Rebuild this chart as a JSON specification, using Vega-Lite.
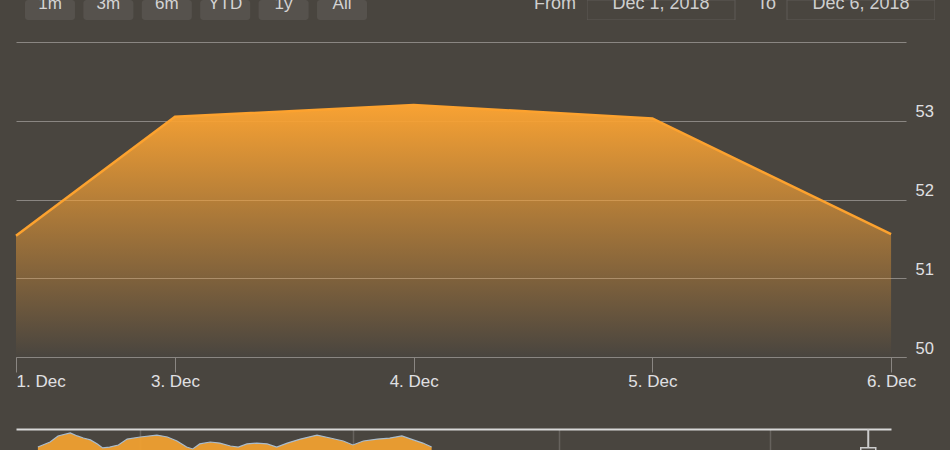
{
  "$schema": "https://vega.github.io/schema/vega-lite/v6.json",
  "background": "#49453f",
  "padding": {"left": 11, "top": -5, "right": 15, "bottom": 0},
  "config": {
    "view": {"stroke": null},
    "font": "Liberation Sans",
    "axis": {"labelFont": "Liberation Sans", "titleFont": "Liberation Sans"}
  },
  "datasets": {
    "price": [
      {"day": 1, "month": "Dec", "close": 51.54},
      {"day": 3, "month": "Dec", "close": 53.05},
      {"day": 4, "month": "Dec", "close": 53.2},
      {"day": 5, "month": "Dec", "close": 53.03},
      {"day": 6, "month": "Dec", "close": 51.56}
    ],
    "buttons": [
      {"label": "1m"}, {"label": "3m"}, {"label": "6m"},
      {"label": "YTD"}, {"label": "1y"}, {"label": "All"}
    ],
    "range": [
      {"label": "From", "value": "Dec 1, 2018"},
      {"label": "To", "value": "Dec 6, 2018"}
    ],
    "nav": [
      {"i": 2.5, "v": 1.4}, {"i": 3.9, "v": 3.8}, {"i": 4.8, "v": 6.7}, {"i": 6.2, "v": 8.1},
      {"i": 7.0, "v": 6.7}, {"i": 7.7, "v": 5.7}, {"i": 8.5, "v": 4.8}, {"i": 9.3, "v": 2.9},
      {"i": 9.9, "v": 1.0}, {"i": 10.7, "v": 1.4}, {"i": 11.7, "v": 2.4}, {"i": 12.7, "v": 5.2},
      {"i": 14.2, "v": 6.2}, {"i": 16.1, "v": 7.1}, {"i": 17.3, "v": 6.2}, {"i": 18.4, "v": 4.3},
      {"i": 19.5, "v": 1.4}, {"i": 20.2, "v": 0.5}, {"i": 21.0, "v": 2.9}, {"i": 22.2, "v": 3.8},
      {"i": 23.3, "v": 3.3}, {"i": 24.5, "v": 1.9}, {"i": 25.4, "v": 1.4}, {"i": 26.4, "v": 2.9},
      {"i": 27.5, "v": 3.3}, {"i": 28.7, "v": 2.9}, {"i": 29.8, "v": 1.4}, {"i": 31.0, "v": 3.3},
      {"i": 32.5, "v": 5.2}, {"i": 34.4, "v": 7.1}, {"i": 35.9, "v": 5.7}, {"i": 37.4, "v": 4.3},
      {"i": 38.5, "v": 2.4}, {"i": 39.7, "v": 4.3}, {"i": 41.3, "v": 5.2}, {"i": 42.7, "v": 5.7},
      {"i": 44.1, "v": 6.7}, {"i": 45.4, "v": 4.8}, {"i": 46.5, "v": 3.3}, {"i": 47.5, "v": 1.4}
    ],
    "handle": [{"i": 97.4, "v": -2.5}]
  },
  "bounds": "flush",
  "spacing": 42,
  "vconcat": [
    {
      "bounds": "flush",
      "spacing": 211,
      "hconcat": [
        {
          "width": 360,
          "height": 20,
          "data": {"name": "buttons"},
          "encoding": {
            "x": {"field": "label", "type": "nominal", "sort": null, "axis": null,
                  "scale": {"type": "band", "paddingInner": 0.144, "paddingOuter": 0.154}}
          },
          "layer": [
            {"mark": {"type": "bar", "color": "#56524d", "cornerRadius": 3, "clip": true}},
            {
              "mark": {"type": "text", "color": "#d4d4d4", "fontSize": 17, "baseline": "alphabetic", "dy": -1, "clip": true},
              "encoding": {"text": {"field": "label"}}
            }
          ]
        },
        {
          "width": 348,
          "height": 20,
          "data": {"name": "range"},
          "encoding": {
            "x": {"field": "label", "type": "nominal", "sort": null, "axis": null,
                  "scale": {"type": "band", "paddingInner": 0.26, "paddingOuter": 0}}
          },
          "layer": [
            {"mark": {"type": "bar", "fill": "#49453f", "stroke": "#5f5b56", "strokeWidth": 1, "clip": true}},
            {
              "mark": {"type": "text", "color": "#cfcfcf", "fontSize": 18, "baseline": "alphabetic", "dy": -1, "clip": true},
              "encoding": {"text": {"field": "value"}}
            },
            {
              "mark": {"type": "text", "color": "#cfcfcf", "fontSize": 18, "baseline": "alphabetic", "align": "right", "dx": -11, "dy": -1},
              "encoding": {
                "x": {"field": "label", "type": "nominal", "sort": null, "axis": null, "bandPosition": 0},
                "text": {"field": "label"}
              }
            }
          ]
        }
      ]
    },
    {
      "bounds": "flush",
      "spacing": 72,
      "vconcat": [
        {
          "width": 890,
          "height": 315,
          "data": {"name": "price"},
          "encoding": {
            "x": {
              "field": "day", "type": "quantitative",
              "scale": {"domain": [1, 3, 6.0625], "range": [0, 159, 890], "nice": false, "zero": false},
              "axis": {
                "title": null,
                "values": [1, 3, 4, 5, 6],
                "labelExpr": "datum.value + '. Dec'",
                "grid": false,
                "domainColor": "#8a8682",
                "tickColor": "#8a8682",
                "tickSize": 15,
                "labelColor": "#e0e0e3",
                "labelFontSize": 17,
                "labelPadding": 1,
                "labelBaseline": "top",
                "labelAlign": {"condition": {"test": "datum.index === 0", "value": "left"}, "value": "center"},
                "labelOverlap": false,
                "labelFlush": false
              }
            },
            "y": {
              "field": "close", "type": "quantitative",
              "scale": {"domain": [50, 54], "zero": false, "nice": false},
              "axis": {
                "title": null,
                "orient": "right",
                "values": [50, 51, 52, 53, 54],
                "labelExpr": "datum.value === 54 ? '' : datum.label",
                "grid": true,
                "gridColor": "#8a8682",
                "domain": false,
                "ticks": false,
                "labelColor": "#e0e0e3",
                "labelFontSize": 16.5,
                "labelAlign": "left",
                "labelPadding": 9,
                "labelBaseline": "alphabetic",
                "labelOffset": -4
              }
            }
          },
          "layer": [
            {
              "mark": {
                "type": "area",
                "color": {
                  "gradient": "linear",
                  "x1": 0, "y1": 0, "x2": 0, "y2": 1,
                  "stops": [
                    {"offset": 0, "color": "#f8a233"},
                    {"offset": 1, "color": "rgba(247,160,53,0)"}
                  ]
                }
              },
              "encoding": {"y2": {"datum": 50}}
            },
            {
              "mark": {"type": "line", "color": "#fca22f", "strokeWidth": 2.5}
            }
          ]
        },
        {
          "width": 875,
          "height": 21,
          "encoding": {
            "x": {
              "field": "i", "type": "quantitative",
              "scale": {"domain": [0, 100], "nice": false},
              "axis": {
                "title": null,
                "orient": "top",
                "labels": false,
                "ticks": false,
                "values": [14.2, 38.5, 62.1, 86.2],
                "grid": true,
                "gridColor": "#66625d",
                "gridWidth": 1.5,
                "domainColor": "#d8d8d8",
                "domainWidth": 2
              }
            }
          },
          "layer": [
            {
              "data": {"name": "nav"},
              "mark": {"type": "area", "color": "#f0a030", "opacity": 0.95, "clip": true},
              "encoding": {
                "y": {"field": "v", "type": "quantitative", "scale": {"domain": [0, 10], "nice": false}, "axis": null},
                "y2": {"datum": 0}
              }
            },
            {
              "data": {"name": "nav"},
              "mark": {"type": "line", "color": "#a9bccd", "strokeWidth": 1.2, "clip": true},
              "encoding": {
                "y": {"field": "v", "type": "quantitative", "axis": null}
              }
            },
            {
              "data": {"name": "handle"},
              "mark": {"type": "rule", "color": "#cccccc", "strokeWidth": 2, "clip": true},
              "encoding": {}
            },
            {
              "data": {"name": "handle"},
              "mark": {"type": "point", "shape": "square", "size": 225, "filled": true, "fill": "#4d4944", "stroke": "#cccccc", "strokeWidth": 1.5, "opacity": 1, "clip": true},
              "encoding": {
                "y": {"field": "v", "type": "quantitative", "axis": null}
              }
            }
          ]
        }
      ]
    }
  ]
}
